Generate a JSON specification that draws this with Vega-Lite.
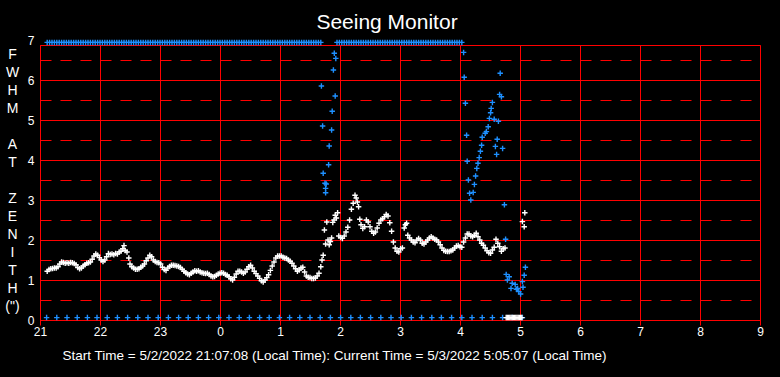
{
  "$schema": "https://vega.github.io/schema/vega-lite/v6.json",
  "width": 720,
  "height": 275,
  "autosize": {"type": "none"},
  "padding": {"left": 40, "top": 45, "right": 20, "bottom": 57},
  "background": "#000000",
  "title": {"text": "Seeing Monitor", "color": "#ffffff", "fontSize": 21, "font": "Liberation Sans", "fontWeight": "normal", "anchor": "middle", "dx": -13, "offset": 1},
  "config": {
    "view": {"stroke": "#ff0000", "strokeWidth": 1, "fill": "#000000"},
    "axis": {"labelFont": "Liberation Sans", "titleFont": "Liberation Sans"}
  },
  "datasets": {
    "white": [
      {"t":21.12,"v":1.22},{"t":21.15,"v":1.26},{"t":21.18,"v":1.28},{"t":21.21,"v":1.29},{"t":21.24,"v":1.3},{"t":21.27,"v":1.3},{"t":21.3,"v":1.33},{"t":21.33,"v":1.4},{"t":21.36,"v":1.45},{"t":21.39,"v":1.44},{"t":21.42,"v":1.42},{"t":21.45,"v":1.43},{"t":21.48,"v":1.42},{"t":21.51,"v":1.44},{"t":21.54,"v":1.43},{"t":21.57,"v":1.41},{"t":21.6,"v":1.38},{"t":21.63,"v":1.31},{"t":21.66,"v":1.28},{"t":21.69,"v":1.3},{"t":21.72,"v":1.35},{"t":21.75,"v":1.38},{"t":21.78,"v":1.42},{"t":21.81,"v":1.43},{"t":21.84,"v":1.45},{"t":21.87,"v":1.52},{"t":21.9,"v":1.6},{"t":21.93,"v":1.65},{"t":21.96,"v":1.62},{"t":21.99,"v":1.56},
      {"t":22.02,"v":1.5},{"t":22.05,"v":1.46},{"t":22.08,"v":1.5},{"t":22.11,"v":1.58},{"t":22.14,"v":1.66},{"t":22.17,"v":1.64},{"t":22.2,"v":1.65},{"t":22.23,"v":1.63},{"t":22.26,"v":1.66},{"t":22.29,"v":1.65},{"t":22.32,"v":1.7},{"t":22.35,"v":1.72},{"t":22.38,"v":1.78},{"t":22.4,"v":1.86},{"t":22.42,"v":1.74},{"t":22.45,"v":1.7},{"t":22.48,"v":1.55},{"t":22.5,"v":1.4},{"t":22.53,"v":1.33},{"t":22.56,"v":1.3},{"t":22.59,"v":1.27},{"t":22.62,"v":1.27},{"t":22.65,"v":1.28},{"t":22.68,"v":1.32},{"t":22.71,"v":1.35},{"t":22.74,"v":1.4},{"t":22.77,"v":1.48},{"t":22.8,"v":1.55},{"t":22.83,"v":1.62},{"t":22.86,"v":1.58},{"t":22.89,"v":1.5},{"t":22.92,"v":1.46},{"t":22.95,"v":1.44},{"t":22.98,"v":1.43},
      {"t":23.01,"v":1.4},{"t":23.04,"v":1.32},{"t":23.07,"v":1.26},{"t":23.1,"v":1.24},{"t":23.13,"v":1.3},{"t":23.16,"v":1.34},{"t":23.19,"v":1.37},{"t":23.22,"v":1.37},{"t":23.25,"v":1.36},{"t":23.28,"v":1.35},{"t":23.31,"v":1.34},{"t":23.34,"v":1.31},{"t":23.37,"v":1.27},{"t":23.4,"v":1.22},{"t":23.43,"v":1.18},{"t":23.46,"v":1.15},{"t":23.49,"v":1.13},{"t":23.52,"v":1.17},{"t":23.55,"v":1.2},{"t":23.58,"v":1.23},{"t":23.61,"v":1.22},{"t":23.64,"v":1.23},{"t":23.67,"v":1.2},{"t":23.7,"v":1.18},{"t":23.73,"v":1.17},{"t":23.76,"v":1.16},{"t":23.79,"v":1.17},{"t":23.82,"v":1.14},{"t":23.85,"v":1.1},{"t":23.88,"v":1.08},{"t":23.91,"v":1.09},{"t":23.94,"v":1.12},{"t":23.97,"v":1.15},
      {"t":24.0,"v":1.17},{"t":24.03,"v":1.18},{"t":24.06,"v":1.17},{"t":24.09,"v":1.14},{"t":24.12,"v":1.12},{"t":24.15,"v":1.08},{"t":24.18,"v":1.03},{"t":24.21,"v":1.0},{"t":24.24,"v":1.07},{"t":24.27,"v":1.15},{"t":24.3,"v":1.22},{"t":24.33,"v":1.22},{"t":24.36,"v":1.2},{"t":24.39,"v":1.17},{"t":24.42,"v":1.2},{"t":24.45,"v":1.27},{"t":24.48,"v":1.33},{"t":24.51,"v":1.37},{"t":24.54,"v":1.3},{"t":24.57,"v":1.22},{"t":24.6,"v":1.16},{"t":24.63,"v":1.1},{"t":24.66,"v":1.04},{"t":24.69,"v":0.98},{"t":24.72,"v":0.95},{"t":24.75,"v":1.0},{"t":24.78,"v":1.06},{"t":24.81,"v":1.13},{"t":24.84,"v":1.24},{"t":24.87,"v":1.35},{"t":24.9,"v":1.45},{"t":24.93,"v":1.55},{"t":24.96,"v":1.6},{"t":24.99,"v":1.6},
      {"t":25.02,"v":1.6},{"t":25.05,"v":1.57},{"t":25.08,"v":1.55},{"t":25.11,"v":1.54},{"t":25.14,"v":1.5},{"t":25.17,"v":1.47},{"t":25.2,"v":1.42},{"t":25.23,"v":1.35},{"t":25.26,"v":1.28},{"t":25.29,"v":1.22},{"t":25.32,"v":1.25},{"t":25.35,"v":1.3},{"t":25.38,"v":1.32},{"t":25.41,"v":1.2},{"t":25.44,"v":1.1},{"t":25.47,"v":1.07},{"t":25.5,"v":1.06},{"t":25.53,"v":1.04},{"t":25.56,"v":1.04},{"t":25.59,"v":1.05},{"t":25.62,"v":1.1},{"t":25.65,"v":1.17},{"t":25.68,"v":1.33},{"t":25.7,"v":1.5},
      {"t":25.72,"v":1.62},{"t":25.74,"v":2.25},{"t":25.76,"v":1.9},{"t":25.78,"v":2.45},{"t":25.8,"v":2.0},{"t":25.82,"v":1.88},{"t":25.84,"v":1.96},{"t":25.86,"v":2.05},{"t":25.88,"v":2.44},{"t":25.9,"v":2.5},{"t":25.92,"v":2.62},{"t":25.94,"v":2.55},{"t":25.96,"v":2.68},{"t":25.98,"v":2.1},
      {"t":26.01,"v":2.06},{"t":26.04,"v":2.04},{"t":26.07,"v":2.1},{"t":26.1,"v":2.2},{"t":26.13,"v":2.32},{"t":26.16,"v":2.5},{"t":26.19,"v":2.77},{"t":26.22,"v":2.92},{"t":26.25,"v":3.12},{"t":26.27,"v":3.05},{"t":26.29,"v":2.95},{"t":26.31,"v":2.83},{"t":26.33,"v":2.52},{"t":26.35,"v":2.38},{"t":26.38,"v":2.29},{"t":26.41,"v":2.33},{"t":26.44,"v":2.5},{"t":26.47,"v":2.45},{"t":26.5,"v":2.33},{"t":26.53,"v":2.22},{"t":26.56,"v":2.17},{"t":26.59,"v":2.2},{"t":26.62,"v":2.3},{"t":26.65,"v":2.42},{"t":26.68,"v":2.5},{"t":26.71,"v":2.53},{"t":26.74,"v":2.58},{"t":26.77,"v":2.64},{"t":26.8,"v":2.6},{"t":26.83,"v":2.43},{"t":26.86,"v":2.22},{"t":26.89,"v":1.95},{"t":26.92,"v":1.8},{"t":26.95,"v":1.72},{"t":26.98,"v":1.7},
      {"t":27.01,"v":1.78},{"t":27.04,"v":1.8},{"t":27.07,"v":2.3},{"t":27.09,"v":2.38},{"t":27.11,"v":2.42},{"t":27.13,"v":2.12},{"t":27.16,"v":2.05},{"t":27.19,"v":2.0},{"t":27.22,"v":1.95},{"t":27.25,"v":1.93},{"t":27.28,"v":2.0},{"t":27.31,"v":2.04},{"t":27.34,"v":2.0},{"t":27.37,"v":1.92},{"t":27.4,"v":1.9},{"t":27.43,"v":1.95},{"t":27.46,"v":2.0},{"t":27.49,"v":2.05},{"t":27.52,"v":2.08},{"t":27.55,"v":2.05},{"t":27.58,"v":2.02},{"t":27.61,"v":2.0},{"t":27.64,"v":1.95},{"t":27.67,"v":1.88},{"t":27.7,"v":1.8},{"t":27.73,"v":1.74},{"t":27.76,"v":1.72},{"t":27.79,"v":1.71},{"t":27.82,"v":1.71},{"t":27.85,"v":1.73},{"t":27.88,"v":1.75},{"t":27.91,"v":1.8},{"t":27.94,"v":1.85},{"t":27.97,"v":1.86},
      {"t":28.0,"v":1.83},{"t":28.03,"v":1.82},{"t":28.06,"v":1.95},{"t":28.09,"v":2.05},{"t":28.12,"v":2.15},{"t":28.15,"v":2.15},{"t":28.18,"v":2.1},{"t":28.21,"v":2.08},{"t":28.24,"v":2.12},{"t":28.27,"v":2.17},{"t":28.3,"v":2.08},{"t":28.33,"v":2.0},{"t":28.36,"v":1.92},{"t":28.39,"v":1.87},{"t":28.42,"v":1.8},{"t":28.45,"v":1.73},{"t":28.48,"v":1.68},{"t":28.51,"v":1.67},{"t":28.54,"v":1.75},{"t":28.57,"v":1.82},{"t":28.6,"v":2.02},{"t":28.63,"v":1.92},{"t":28.66,"v":1.83},{"t":28.69,"v":1.72},{"t":28.72,"v":1.78},{"t":28.75,"v":1.8},
      {"t":28.77,"v":0.06},{"t":28.79,"v":0.06},{"t":28.81,"v":0.06},{"t":28.83,"v":0.06},{"t":28.85,"v":0.06},{"t":28.87,"v":0.06},{"t":28.89,"v":0.06},{"t":28.91,"v":0.06},{"t":28.93,"v":0.06},{"t":28.95,"v":0.06},{"t":28.97,"v":0.06},{"t":28.99,"v":0.06},{"t":29.01,"v":0.06},{"t":29.03,"v":0.06},
      {"t":29.04,"v":2.46},{"t":29.07,"v":2.33},{"t":29.08,"v":2.68}
    ],
    "blue": [
      {"t":21.12,"v":6.94},{"t":21.16,"v":6.94},{"t":21.2,"v":6.94},{"t":21.24,"v":6.94},{"t":21.28,"v":6.94},{"t":21.32,"v":6.94},{"t":21.36,"v":6.94},{"t":21.4,"v":6.94},{"t":21.44,"v":6.94},{"t":21.48,"v":6.94},{"t":21.52,"v":6.94},{"t":21.56,"v":6.94},{"t":21.6,"v":6.94},{"t":21.64,"v":6.94},{"t":21.68,"v":6.94},{"t":21.72,"v":6.94},{"t":21.76,"v":6.94},{"t":21.8,"v":6.94},{"t":21.84,"v":6.94},{"t":21.88,"v":6.94},{"t":21.92,"v":6.94},{"t":21.96,"v":6.94},
      {"t":22.0,"v":6.94},{"t":22.04,"v":6.94},{"t":22.08,"v":6.94},{"t":22.12,"v":6.94},{"t":22.16,"v":6.94},{"t":22.2,"v":6.94},{"t":22.24,"v":6.94},{"t":22.28,"v":6.94},{"t":22.32,"v":6.94},{"t":22.36,"v":6.94},{"t":22.4,"v":6.94},{"t":22.44,"v":6.94},{"t":22.48,"v":6.94},{"t":22.52,"v":6.94},{"t":22.56,"v":6.94},{"t":22.6,"v":6.94},{"t":22.64,"v":6.94},{"t":22.68,"v":6.94},{"t":22.72,"v":6.94},{"t":22.76,"v":6.94},{"t":22.8,"v":6.94},{"t":22.84,"v":6.94},{"t":22.88,"v":6.94},{"t":22.92,"v":6.94},{"t":22.96,"v":6.94},
      {"t":23.0,"v":6.94},{"t":23.04,"v":6.94},{"t":23.08,"v":6.94},{"t":23.12,"v":6.94},{"t":23.16,"v":6.94},{"t":23.2,"v":6.94},{"t":23.24,"v":6.94},{"t":23.28,"v":6.94},{"t":23.32,"v":6.94},{"t":23.36,"v":6.94},{"t":23.4,"v":6.94},{"t":23.44,"v":6.94},{"t":23.48,"v":6.94},{"t":23.52,"v":6.94},{"t":23.56,"v":6.94},{"t":23.6,"v":6.94},{"t":23.64,"v":6.94},{"t":23.68,"v":6.94},{"t":23.72,"v":6.94},{"t":23.76,"v":6.94},{"t":23.8,"v":6.94},{"t":23.84,"v":6.94},{"t":23.88,"v":6.94},{"t":23.92,"v":6.94},{"t":23.96,"v":6.94},
      {"t":24.0,"v":6.94},{"t":24.04,"v":6.94},{"t":24.08,"v":6.94},{"t":24.12,"v":6.94},{"t":24.16,"v":6.94},{"t":24.2,"v":6.94},{"t":24.24,"v":6.94},{"t":24.28,"v":6.94},{"t":24.32,"v":6.94},{"t":24.36,"v":6.94},{"t":24.4,"v":6.94},{"t":24.44,"v":6.94},{"t":24.48,"v":6.94},{"t":24.52,"v":6.94},{"t":24.56,"v":6.94},{"t":24.6,"v":6.94},{"t":24.64,"v":6.94},{"t":24.68,"v":6.94},{"t":24.72,"v":6.94},{"t":24.76,"v":6.94},{"t":24.8,"v":6.94},{"t":24.84,"v":6.94},{"t":24.88,"v":6.94},{"t":24.92,"v":6.94},{"t":24.96,"v":6.94},
      {"t":25.0,"v":6.94},{"t":25.04,"v":6.94},{"t":25.08,"v":6.94},{"t":25.12,"v":6.94},{"t":25.16,"v":6.94},{"t":25.2,"v":6.94},{"t":25.24,"v":6.94},{"t":25.28,"v":6.94},{"t":25.32,"v":6.94},{"t":25.36,"v":6.94},{"t":25.4,"v":6.94},{"t":25.44,"v":6.94},{"t":25.48,"v":6.94},{"t":25.52,"v":6.94},{"t":25.56,"v":6.94},{"t":25.6,"v":6.94},{"t":25.64,"v":6.94},{"t":25.68,"v":6.94},
      {"t":25.95,"v":6.94},{"t":25.99,"v":6.94},{"t":26.03,"v":6.94},{"t":26.07,"v":6.94},{"t":26.11,"v":6.94},{"t":26.15,"v":6.94},{"t":26.19,"v":6.94},{"t":26.23,"v":6.94},{"t":26.27,"v":6.94},{"t":26.31,"v":6.94},{"t":26.35,"v":6.94},{"t":26.39,"v":6.94},{"t":26.43,"v":6.94},{"t":26.47,"v":6.94},{"t":26.51,"v":6.94},{"t":26.55,"v":6.94},{"t":26.59,"v":6.94},{"t":26.63,"v":6.94},{"t":26.67,"v":6.94},{"t":26.71,"v":6.94},{"t":26.75,"v":6.94},{"t":26.79,"v":6.94},{"t":26.83,"v":6.94},{"t":26.87,"v":6.94},{"t":26.91,"v":6.94},{"t":26.95,"v":6.94},{"t":26.99,"v":6.94},
      {"t":27.03,"v":6.94},{"t":27.07,"v":6.94},{"t":27.11,"v":6.94},{"t":27.15,"v":6.94},{"t":27.19,"v":6.94},{"t":27.23,"v":6.94},{"t":27.27,"v":6.94},{"t":27.31,"v":6.94},{"t":27.35,"v":6.94},{"t":27.39,"v":6.94},{"t":27.43,"v":6.94},{"t":27.47,"v":6.94},{"t":27.51,"v":6.94},{"t":27.55,"v":6.94},{"t":27.59,"v":6.94},{"t":27.63,"v":6.94},{"t":27.67,"v":6.94},{"t":27.71,"v":6.94},{"t":27.75,"v":6.94},{"t":27.79,"v":6.94},{"t":27.83,"v":6.94},{"t":27.87,"v":6.94},{"t":27.91,"v":6.94},{"t":27.95,"v":6.94},{"t":27.99,"v":6.94},{"t":28.03,"v":6.94},
      {"t":25.905,"v":6.67},{"t":25.93,"v":6.54},{"t":25.89,"v":6.25},{"t":25.69,"v":5.85},{"t":25.92,"v":5.6},{"t":25.87,"v":5.22},{"t":25.71,"v":4.85},{"t":25.86,"v":4.75},{"t":25.82,"v":4.35},{"t":25.81,"v":3.88},{"t":25.72,"v":3.67},{"t":25.75,"v":3.42},{"t":25.77,"v":3.4},{"t":25.76,"v":3.29},{"t":25.76,"v":3.18},
      {"t":28.06,"v":6.69},{"t":28.07,"v":6.07},{"t":28.09,"v":5.42},{"t":28.11,"v":4.62},{"t":28.12,"v":3.97},{"t":28.14,"v":3.5},{"t":28.16,"v":3.17},{"t":28.18,"v":3.0},{"t":28.22,"v":3.19},{"t":28.24,"v":3.39},{"t":28.26,"v":3.6},{"t":28.28,"v":3.79},{"t":28.3,"v":3.92},{"t":28.32,"v":4.06},{"t":28.34,"v":4.22},{"t":28.36,"v":4.37},{"t":28.37,"v":4.57},{"t":28.42,"v":4.67},{"t":28.44,"v":4.71},{"t":28.47,"v":4.83},{"t":28.49,"v":5.04},{"t":28.51,"v":5.18},{"t":28.52,"v":5.29},{"t":28.54,"v":5.44},{"t":28.57,"v":5.02},{"t":28.59,"v":4.34},{"t":28.61,"v":4.14},{"t":28.62,"v":4.52},{"t":28.64,"v":4.97},{"t":28.66,"v":5.64},{"t":28.67,"v":6.17},{"t":28.69,"v":5.58},{"t":28.71,"v":4.29},{"t":28.74,"v":2.88},{"t":28.76,"v":2.02},
      {"t":28.77,"v":1.14},{"t":28.79,"v":1.0},{"t":28.82,"v":1.08},{"t":28.85,"v":0.79},{"t":28.87,"v":0.92},{"t":28.92,"v":0.89},{"t":28.94,"v":0.77},{"t":28.96,"v":0.79},{"t":28.98,"v":0.71},{"t":29.01,"v":0.65},{"t":29.04,"v":0.96},{"t":29.05,"v":0.82},{"t":29.07,"v":1.12},{"t":29.09,"v":1.32},
      {"t":21.11,"v":0.06},{"t":21.28,"v":0.06},{"t":21.45,"v":0.06},{"t":21.62,"v":0.06},{"t":21.79,"v":0.06},{"t":21.95,"v":0.06},{"t":22.12,"v":0.06},{"t":22.29,"v":0.06},{"t":22.46,"v":0.06},{"t":22.63,"v":0.06},{"t":22.8,"v":0.06},{"t":22.97,"v":0.06},{"t":23.14,"v":0.06},{"t":23.31,"v":0.06},{"t":23.47,"v":0.06},{"t":23.64,"v":0.06},{"t":23.81,"v":0.06},{"t":23.98,"v":0.06},{"t":24.15,"v":0.06},{"t":24.32,"v":0.06},{"t":24.49,"v":0.06},{"t":24.66,"v":0.06},{"t":24.82,"v":0.06},{"t":24.99,"v":0.06},{"t":25.16,"v":0.06},{"t":25.33,"v":0.06},{"t":25.5,"v":0.06},{"t":25.67,"v":0.06},{"t":25.84,"v":0.06},{"t":26.01,"v":0.06},{"t":26.18,"v":0.06},{"t":26.34,"v":0.06},{"t":26.51,"v":0.06},{"t":26.68,"v":0.06},{"t":26.85,"v":0.06},{"t":27.02,"v":0.06},{"t":27.19,"v":0.06},{"t":27.36,"v":0.06},{"t":27.53,"v":0.06},{"t":27.69,"v":0.06},{"t":27.86,"v":0.06},{"t":28.03,"v":0.06},{"t":28.2,"v":0.06},{"t":28.37,"v":0.06},{"t":28.54,"v":0.06},{"t":28.71,"v":0.06},{"t":28.87,"v":0.06},{"t":29.04,"v":0.06}
    ]
  },
  "encoding": {
    "x": {
      "field": "t", "type": "quantitative",
      "scale": {"domain": [21, 33], "nice": false, "zero": false},
      "axis": {
        "values": [21, 22, 23, 24, 25, 26, 27, 28, 29, 30, 31, 32, 33],
        "labelExpr": "datum.value >= 24 ? format(datum.value - 24, 'd') : format(datum.value, 'd')",
        "grid": true, "gridColor": "#ff0000", "gridWidth": 1, "gridOpacity": 1,
        "domain": false, "ticks": false, "tickSize": 0,
        "labelPadding": 6, "labelColor": "#ffffff", "labelFontSize": 12, "labelFlush": false, "labelOverlap": false,
        "title": "Start Time = 5/2/2022 21:07:08 (Local Time): Current Time = 5/3/2022 5:05:07 (Local Time)",
        "titleColor": "#ffffff", "titleFontSize": 13.5, "titleFontWeight": "normal",
        "titleAlign": "left", "titleAnchor": "start", "titleX": 22, "titleY": 39, "titleBaseline": "alphabetic"
      }
    },
    "y": {
      "field": "v", "type": "quantitative",
      "scale": {"domain": [0, 7], "range": [275, -5], "nice": false, "zero": false},
      "axis": {
        "values": [0, 0.5, 1, 1.5, 2, 2.5, 3, 3.5, 4, 4.5, 5, 5.5, 6, 6.5, 7],
        "labelExpr": "datum.value % 1 === 0 ? format(datum.value, 'd') : ''",
        "grid": true, "gridColor": "#ff0000", "gridWidth": 1,
        "gridDash": {"condition": {"test": "datum.value % 1 !== 0", "value": [11, 9]}, "value": []},
        "gridOpacity": {"condition": {"test": "datum.value > 6.9", "value": 0}, "value": 1},
        "domain": false, "ticks": false, "tickSize": 0,
        "labelPadding": 6, "labelColor": "#ffffff", "labelFontSize": 12, "labelOverlap": false, "labelFlush": false,
        "title": ["F", "W", "H", "M", "\u200b", "A", "T", "\u200b", "Z", "E", "N", "I", "T", "H", "(\")"],
        "titleColor": "#ffffff", "titleFontSize": 14, "titleFontWeight": "normal",
        "titleAngle": 0, "titleAlign": "center", "titleBaseline": "top",
        "titleX": -28, "titleY": 2, "titleLineHeight": 18
      }
    }
  },
  "layer": [
    {
      "data": {"name": "blue"},
      "mark": {"type": "point", "shape": "M-1,0H1M0,-1V1", "size": 30, "filled": false, "color": "#1e90ff", "strokeWidth": 1.4, "opacity": 1}
    },
    {
      "data": {"name": "white"},
      "mark": {"type": "point", "shape": "M-1,0H1M0,-1V1", "size": 30, "filled": false, "color": "#ffffff", "strokeWidth": 1.4, "opacity": 1}
    }
  ]
}
